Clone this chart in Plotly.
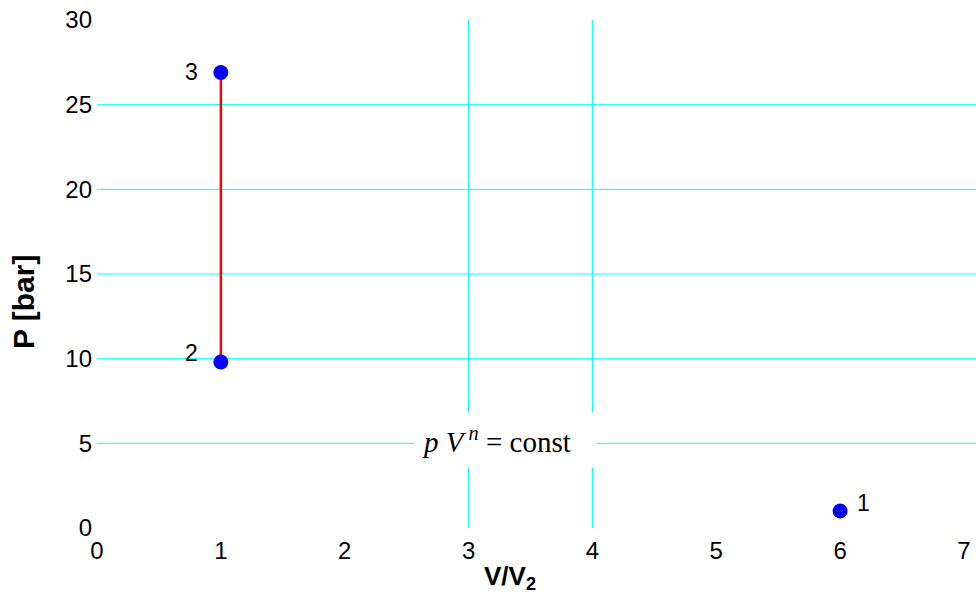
import plotly.graph_objects as go

# Data
state_labels = ["1", "2", "3"]
v_ratio = [6, 1, 1]
pressure = [1.0, 9.8, 26.9]
process_x = [1, 1]
process_y = [9.8, 26.9]
x_ticks = [0, 1, 2, 3, 4, 5, 6, 7]
y_ticks = [0, 5, 10, 15, 20, 25, 30]
hlines = [5, 10, 15, 20, 25]
vlines = [3, 4]

fig = go.Figure()

shapes = []
for h in hlines:
    shapes.append(dict(type="line", xref="paper", yref="y", x0=0, x1=1, y0=h, y1=h,
                       line=dict(color="#00FFFF", width=1), layer="below"))
for v in vlines:
    shapes.append(dict(type="line", xref="x", yref="paper", x0=v, x1=v, y0=0, y1=1,
                       line=dict(color="#00FFFF", width=1), layer="below"))

fig.add_trace(go.Scatter(x=process_x, y=process_y, mode="lines",
                         line=dict(color="#FF0000", width=2.5), hoverinfo="skip",
                         showlegend=False))
fig.add_trace(go.Scatter(x=v_ratio, y=pressure, mode="markers",
                         marker=dict(color="#0000FF", size=15), showlegend=False))

label_font = dict(family="Liberation Sans, Arial", size=23, color="black")
shifts = [(23, 8), (-29, 9), (-29, 0)]
annotations = []
for lab, xv, yv, (dx, dy) in zip(state_labels, v_ratio, pressure, shifts):
    annotations.append(dict(x=xv, y=yv, text=lab, showarrow=False, xshift=dx, yshift=dy,
                            font=label_font))

annotations.append(dict(x=3.296, y=5, yshift=3,
                        text="<i>p</i>&nbsp;<i>V</i><sup>&nbsp;<i>n</i></sup> = const",
                        showarrow=False, bgcolor="white", borderpad=7,
                        width=167, height=40, align="left",
                        font=dict(family="Liberation Serif, Times New Roman", size=29, color="black")))

# axis titles
annotations.append(dict(xref="paper", yref="paper", x=(510 - 97) / 879, y=-(577 - 528) / 508,
                        xanchor="center", yanchor="middle",
                        text="<b>V/V<sub>2</sub></b>", showarrow=False,
                        font=dict(family="Liberation Sans, Arial", size=26, color="black")))
annotations.append(dict(xref="paper", yref="paper", x=-(97 - 23) / 879, y=(528 - 302) / 508,
                        xanchor="center", yanchor="middle",
                        text="<b>P [bar]</b>", showarrow=False, textangle=-90,
                        font=dict(family="Liberation Sans, Arial", size=30, color="black")))

fig.update_layout(
    width=976, height=597,
    margin=dict(l=97, r=0, t=20, b=69),
    plot_bgcolor="white", paper_bgcolor="white",
    shapes=shapes, annotations=annotations,
    xaxis=dict(range=[0, 7.097], tickvals=x_ticks, showgrid=False, zeroline=False,
               showline=False, ticks="", ticklabelstandoff=6,
               tickfont=dict(family="Liberation Sans, Arial", size=24, color="black")),
    yaxis=dict(range=[0, 30], tickvals=y_ticks, showgrid=False, zeroline=False,
               showline=False, ticks="", ticklabelstandoff=4,
               tickfont=dict(family="Liberation Sans, Arial", size=24, color="black")),
)

fig.write_html("out.html")
